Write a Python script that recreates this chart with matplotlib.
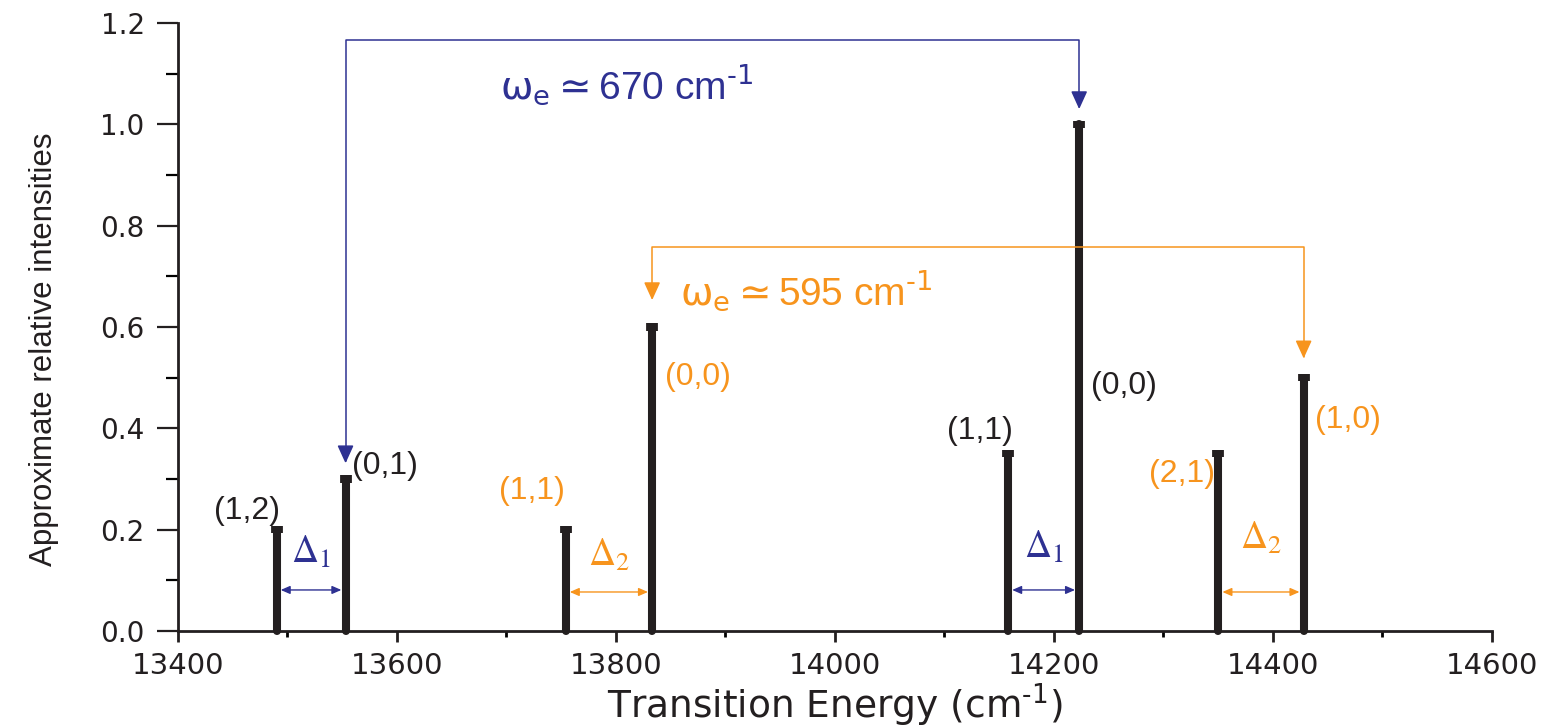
import matplotlib
matplotlib.use("Agg")
import matplotlib.pyplot as plt
from matplotlib.patches import FancyArrowPatch
from matplotlib.path import Path
from matplotlib.ticker import MultipleLocator
from matplotlib import font_manager

# ---- data -------------------------------------------------------------
# vibronic band positions (cm^-1) and approximate relative intensities
energies = [13490, 13553, 13754, 13833, 14158, 14223, 14350, 14428]
intensities = [0.20, 0.30, 0.20, 0.60, 0.35, 1.00, 0.35, 0.50]
band_labels = ["(1,2)", "(0,1)", "(1,1)", "(0,0)", "(1,1)", "(0,0)", "(2,1)", "(1,0)"]
band_system = [0, 0, 1, 1, 0, 0, 1, 1]          # which progression a band belongs to

# vibrational spacing brackets (band index pairs) and their values
omega_pairs = [(1, 5), (3, 7)]
omega_system = [0, 1]
omega_values = [670, 595]

# sequence splittings (band index pairs)
delta_pairs = [(0, 1), (2, 3), (4, 5), (6, 7)]
delta_system = [0, 1, 0, 1]
delta_names = ["1", "2", "1", "2"]

x_ticks = [13400, 13600, 13800, 14000, 14200, 14400, 14600]
y_ticks = [0.0, 0.2, 0.4, 0.6, 0.8, 1.0, 1.2]

# ---- style / layout ---------------------------------------------------
SYS_COLORS = ["#2e3192", "#f7941d"]
BAR_COLOR = "#231f20"
LABEL_COLORS = ["#231f20", "#f7941d"]

installed = {f.name for f in font_manager.fontManager.ttflist}
NARROW = "Liberation Sans Narrow" if "Liberation Sans Narrow" in installed else "Liberation Sans"

# band label placement: (horizontal alignment, dx px, dy px from bar top)
label_layout = [("right", 3, 11), ("left", 6, 5), ("right", -1, 31), ("left", 13, -58),
                ("right", 5, 15), ("left", 12, -270), ("right", -3, -28), ("left", 11, -50)]

bracket_levels = [1.166, 0.757]
bracket_tip_gaps = [(0.031, 0.030), (0.053, 0.038)]
omega_text_pos = [(13694, 1.05), (13858, 0.644)]
delta_arrow_y = [0.081, 0.077, 0.081, 0.077]
delta_text_y = [0.135, 0.129, 0.145, 0.162]

fig = plt.figure(figsize=(15.53, 7.27), dpi=100)
ax = fig.add_axes([178 / 1553, 96 / 727, 1314 / 1553, 608 / 727])

ax.set_xlim(x_ticks[0], x_ticks[-1])
ax.set_ylim(y_ticks[0], y_ticks[-1])

# bars drawn as thick sticks with a small flat cap on top
cap_h = 0.014
ax.vlines(energies, 0, intensities, colors=BAR_COLOR, linewidth=5.8,
          capstyle="round", clip_on=False, zorder=3)
ax.vlines(energies, [h - cap_h / 2 for h in intensities],
          [h + cap_h / 2 for h in intensities],
          colors=BAR_COLOR, linewidth=8.5, capstyle="butt", zorder=3)

# band labels
for x, h, lab, sysid, (ha, dx, dy) in zip(energies, intensities, band_labels,
                                          band_system, label_layout):
    ax.annotate(lab, xy=(x, h), xytext=(dx, dy), textcoords="offset pixels",
                ha=ha, va="baseline", fontsize=23, family="Liberation Sans",
                color=LABEL_COLORS[sysid])

# vibrational spacing brackets
for (i, j), level, (ga, gb), sysid in zip(omega_pairs, bracket_levels,
                                           bracket_tip_gaps, omega_system):
    col = SYS_COLORS[sysid]
    verts = [(energies[i], intensities[i] + ga), (energies[i], level),
             (energies[j], level), (energies[j], intensities[j] + gb)]
    path = Path(verts, [Path.MOVETO, Path.LINETO, Path.LINETO, Path.LINETO])
    arr = FancyArrowPatch(path=path, arrowstyle="<|-|>,head_length=11,head_width=5",
                          mutation_scale=1, color=col, linewidth=1.1, zorder=4,
                          shrinkA=0, shrinkB=0)
    ax.add_patch(arr)

for val, (tx, ty), sysid in zip(omega_values, omega_text_pos, omega_system):
    ax.text(tx, ty,
            r"$\mathrm{\omega}_{\mathrm{e}}\simeq$" + f"{val} cm" + r"$^{\text{-1}}$",
            ha="left", va="baseline", fontsize=28, family=NARROW,
            math_fontfamily="dejavusans", color=SYS_COLORS[sysid])

# sequence splittings
for (i, j), ay, ty, sysid, name in zip(delta_pairs, delta_arrow_y, delta_text_y,
                                        delta_system, delta_names):
    col = SYS_COLORS[sysid]
    arr = FancyArrowPatch((energies[i], ay), (energies[j], ay),
                          arrowstyle="<|-|>,head_length=5.5,head_width=2.4",
                          mutation_scale=1, color=col, linewidth=1.0,
                          shrinkA=3.0, shrinkB=3.0, zorder=4)
    ax.add_patch(arr)
    ax.text((energies[i] + energies[j]) / 2, ty, r"$\Delta_{%s}$" % name,
            ha="center", va="baseline", fontsize=27, math_fontfamily="stix",
            color=col)

# axes styling
for side in ("top", "right"):
    ax.spines[side].set_visible(False)
for side in ("left", "bottom"):
    ax.spines[side].set_linewidth(2.0)
    ax.spines[side].set_color("#231f20")

ax.set_xticks(x_ticks)
ax.set_yticks(y_ticks)
ax.set_yticklabels([f"{v:.1f}" for v in y_ticks])
ax.xaxis.set_minor_locator(MultipleLocator(100))
ax.yaxis.set_minor_locator(MultipleLocator(0.1))
ax.tick_params(axis="x", which="major", direction="out", length=8, width=2.0,
               pad=7, labelsize=21, colors="#231f20")
ax.tick_params(axis="x", which="minor", direction="out", length=4.5, width=2.0)
ax.tick_params(axis="y", which="major", direction="out", length=15, width=1.6,
               pad=9, labelsize=20, colors="#231f20")
ax.tick_params(axis="y", which="minor", direction="out", length=9, width=1.6)
for t in ax.get_xticklabels() + ax.get_yticklabels():
    t.set_family("DejaVu Sans")

ax.set_xlabel("Transition Energy (cm$^{\\text{-1}}$)", fontsize=27, family="DejaVu Sans",
              labelpad=1, color="#231f20")
ax.set_ylabel("Approximate relative intensities", fontsize=25 if NARROW != "Liberation Sans" else 22.5,
              family=NARROW, color="#231f20")
ax.yaxis.set_label_coords(-0.0905, 0.464)

fig.savefig("out.png", dpi=100, facecolor="white")
